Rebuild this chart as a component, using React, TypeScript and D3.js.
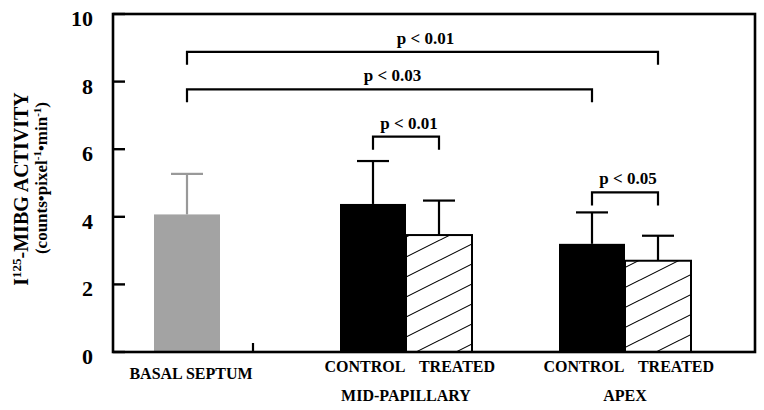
import React from "react";
import * as d3 from "d3";

// regions on the x axis and the two conditions inside each paired region
const regions = ["BASAL SEPTUM", "MID-PAPILLARY", "APEX"];
const conditions = ["CONTROL", "TREATED"];

// mean and error (SD)
const basalMean = 4.07;
const basalErr = 1.2;
const controlMeans = [4.38, 3.2]; // mid-papillary, apex
const controlErr = [1.27, 0.93];
const treatedMeans = [3.46, 2.7];
const treatedErr = [1.02, 0.74];

const yTicks = [0, 2, 4, 6, 8, 10];

// significance brackets: from bar key to bar key, height in data units
const comparisons = [
  { from: "BASAL SEPTUM", to: "APEX|TREATED", level: 8.88, label: "p < 0.01" },
  { from: "BASAL SEPTUM", to: "APEX|CONTROL", level: 7.77, label: "p < 0.03" },
  { from: "MID-PAPILLARY|CONTROL", to: "MID-PAPILLARY|TREATED", level: 6.37, label: "p < 0.01" },
  { from: "APEX|CONTROL", to: "APEX|TREATED", level: 4.72, label: "p < 0.05" },
];

interface Bar {
  key: string;
  region: string;
  condition: string | null;
  mean: number;
  err: number;
}

const bars: Bar[] = [
  { key: "BASAL SEPTUM", region: regions[0], condition: null, mean: basalMean, err: basalErr },
  ...regions.slice(1).flatMap((r, i) => [
    { key: r + "|CONTROL", region: r, condition: "CONTROL", mean: controlMeans[i], err: controlErr[i] },
    { key: r + "|TREATED", region: r, condition: "TREATED", mean: treatedMeans[i], err: treatedErr[i] },
  ]),
];

const W = 764;
const H = 410;
const plot = { left: 113, right: 755, top: 14, bottom: 352 };
const barW = 66;
const font = "'Liberation Serif', 'Times New Roman', serif";

const App: React.FC = () => {
  const y = d3.scaleLinear().domain([0, 10]).range([plot.bottom, plot.top]);
  const regionX = d3.scalePoint<string>().domain(regions).range([187, 625]);
  const condX = d3
    .scaleBand<string>()
    .domain(conditions)
    .range([-barW, barW])
    .padding(0);

  const center = (b: Bar) =>
    b.condition === null
      ? (regionX(b.region) as number)
      : (regionX(b.region) as number) + (condX(b.condition) as number) + barW / 2;
  const byKey = new Map(bars.map((b) => [b.key, b]));

  const fillOf = (b: Bar) =>
    b.condition === null ? "#a3a3a3" : b.condition === "CONTROL" ? "#000" : "url(#hatch)";

  const basalTickX = (regionX(regions[0]) as number) + barW;

  return (
    <svg
      width={W}
      height={H}
      style={{ position: "absolute", left: 0, top: 0, background: "#fff" }}
      fontFamily={font}
      fontWeight="bold"
    >
      <defs>
        <pattern id="hatch" patternUnits="userSpaceOnUse" width={40} height={20}>
          <rect width={40} height={20} fill="#fff" />
          <path d="M0,20 L40,0 M-4,2 L4,-2 M36,22 L44,18" stroke="#000" strokeWidth={1.1} />
        </pattern>
      </defs>

      {/* bars */}
      {bars.map((b) => {
        const cx = center(b);
        return (
          <rect
            key={b.key}
            x={cx - barW / 2}
            y={y(b.mean)}
            width={barW}
            height={y(0) - y(b.mean)}
            fill={fillOf(b)}
            stroke={b.condition === "TREATED" ? "#000" : "none"}
            strokeWidth={2}
          />
        );
      })}

      {/* error bars */}
      {bars.map((b) => {
        const cx = center(b);
        const c = b.condition === null ? "#999" : "#000";
        return (
          <g key={"e" + b.key} stroke={c} strokeWidth={2.2}>
            <line x1={cx} x2={cx} y1={y(b.mean)} y2={y(b.mean + b.err)} />
            <line x1={cx - 16} x2={cx + 16} y1={y(b.mean + b.err)} y2={y(b.mean + b.err)} />
          </g>
        );
      })}

      {/* frame */}
      <rect
        x={plot.left}
        y={plot.top}
        width={plot.right - plot.left}
        height={plot.bottom - plot.top}
        fill="none"
        stroke="#000"
        strokeWidth={2.6}
      />

      {/* y ticks (inward) and labels */}
      {yTicks.map((t) => (
        <g key={t}>
          <line x1={plot.left} x2={plot.left + 12} y1={y(t)} y2={y(t)} stroke="#000" strokeWidth={2.4} />
          <text x={plot.left - 20} y={y(t) + 12} textAnchor="end" fontSize={22}>
            {t}
          </text>
        </g>
      ))}

      {/* single inward tick on the x axis */}
      <line x1={basalTickX} x2={basalTickX} y1={plot.bottom} y2={plot.bottom - 9} stroke="#000" strokeWidth={2.2} />

      {/* brackets */}
      {comparisons.map((c, i) => {
        const x1 = center(byKey.get(c.from)!);
        const x2 = center(byKey.get(c.to)!);
        const yl = y(c.level);
        return (
          <g key={"c" + i}>
            <path
              d={`M${x1},${yl + 13} V${yl} H${x2} V${yl + 13}`}
              fill="none"
              stroke="#000"
              strokeWidth={2.2}
            />
            <text x={(x1 + x2) / 2 + 3} y={yl - 8} textAnchor="middle" fontSize={17}>
              {c.label}
            </text>
          </g>
        );
      })}

      {/* x labels */}
      <text x={regionX(regions[0])! + 4} y={379} textAnchor="middle" fontSize={16}>
        {regions[0]}
      </text>
      {regions.slice(1).map((r) => (
        <g key={"l" + r}>
          {conditions.map((c, j) => (
            <text
              key={c}
              x={(regionX(r) as number) + (condX(c) as number) + barW / 2 + (j === 0 ? -8 : 18)}
              y={372}
              textAnchor="middle"
              fontSize={16}
            >
              {c}
            </text>
          ))}
          <text x={regionX(r)} y={401} textAnchor="middle" fontSize={16}>
            {r}
          </text>
        </g>
      ))}

      {/* y title */}
      <text transform="translate(28,189) rotate(-90)" textAnchor="middle" fontSize={20}>
        I<tspan fontSize={13} dy={-7}>125</tspan>
        <tspan dy={7}>-MIBG ACTIVITY</tspan>
      </text>
      <text transform="translate(47,178) rotate(-90)" textAnchor="middle" fontSize={17}>
        (counts•pixel<tspan fontSize={11} dy={-6}>-1</tspan>
        <tspan dy={6}>•min</tspan>
        <tspan fontSize={11} dy={-6}>-1</tspan>
        <tspan dy={6}>)</tspan>
      </text>
    </svg>
  );
};

export default App;
